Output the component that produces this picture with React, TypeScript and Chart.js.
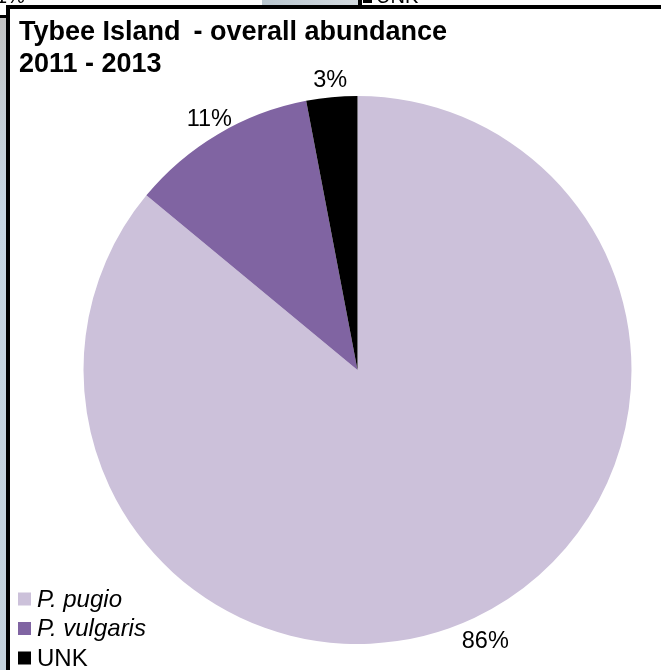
import React, { useEffect, useRef } from "react";
import { Chart, registerables } from "chart.js";

Chart.register(...registerables);

// Overall abundance by species, percent of total catch
const speciesLabels = ["P. pugio", "P. vulgaris", "UNK"];
const abundancePct = [86, 11, 3];
const sliceColors = ["#CCC1DA", "#8064A2", "#000000"];
const italicNames = [true, true, false];
const titleLines = ["Tybee Island\u2009 - overall abundance", "2011 - 2013"];

const FONT = "'Liberation Sans', Arial, sans-serif";
const W = 661;
const H = 670;

// Window backdrop around the framed chart box
const backdropPlugin = {
  id: "backdrop",
  beforeDraw(chart: Chart) {
    const ctx = chart.ctx;
    ctx.save();
    ctx.fillStyle = "#ffffff";
    ctx.fillRect(0, 0, W, H);

    // strip to the left of the frame
    const g = ctx.createLinearGradient(0, 18, 0, H);
    g.addColorStop(0, "#c2c2c2");
    g.addColorStop(0.12, "#c4ccd2");
    g.addColorStop(0.3, "#c6d5e2");
    g.addColorStop(1, "#c3d1dc");
    ctx.fillStyle = g;
    ctx.fillRect(0, 18, 7, H - 18);
    ctx.fillStyle = "#000";
    ctx.fillRect(0, 15, 7, 3);

    // neighbouring window pieces above the frame
    const g2 = ctx.createLinearGradient(262, 0, 358, 0);
    g2.addColorStop(0, "#b9c6cf");
    g2.addColorStop(1, "#d3dadf");
    ctx.fillStyle = g2;
    ctx.fillRect(262, 0, 96, 5);
    ctx.fillStyle = "#000";
    ctx.fillRect(358, 0, 4, 5);
    ctx.fillRect(363, 0, 9, 3);

    ctx.beginPath();
    ctx.rect(0, 0, W, 5);
    ctx.clip();
    ctx.fillStyle = "#000";
    ctx.font = `20px ${FONT}`;
    ctx.textBaseline = "alphabetic";
    ctx.fillText("UNK", 376, 3);
    ctx.fillText("1%", -4, 3);
    ctx.restore();

    // chart frame
    ctx.save();
    ctx.fillStyle = "#000";
    ctx.fillRect(6, 5, W - 6, 4);
    ctx.fillRect(6, 5, 4, H - 5);
    ctx.restore();
  },
};

// Title, outside-end percentage labels and the legend
const annotatePlugin = {
  id: "annotate",
  afterDraw(chart: Chart) {
    const ctx = chart.ctx;
    ctx.save();

    ctx.fillStyle = "#000";
    ctx.textAlign = "left";
    ctx.textBaseline = "alphabetic";
    ctx.font = `bold 27px ${FONT}`;
    ctx.fillText(titleLines[0], 19, 40);
    ctx.fillText(titleLines[1], 19, 72);

    const meta = chart.getDatasetMeta(0);
    const values = chart.data.datasets[0].data as number[];
    ctx.font = `23.5px ${FONT}`;
    ctx.textAlign = "center";
    ctx.textBaseline = "middle";
    meta.data.forEach((el: any, i: number) => {
      const { x, y, startAngle, endAngle, outerRadius } = el.getProps(
        ["x", "y", "startAngle", "endAngle", "outerRadius"],
        true
      );
      const mid = (startAngle + endAngle) / 2;
      // labels below the centre sit a little further from the rim
      const d = outerRadius + 17 + 10 * Math.max(0, Math.sin(mid));
      ctx.fillText(`${values[i]}%`, x + Math.cos(mid) * d, y + Math.sin(mid) * d);
    });

    const labels = chart.data.labels as string[];
    const colors = chart.data.datasets[0].backgroundColor as string[];
    ctx.textAlign = "left";
    labels.forEach((lab, i) => {
      const cy = 599 + i * 29.5;
      ctx.fillStyle = colors[i];
      ctx.fillRect(18, cy - 6.5, 13, 13);
      ctx.fillStyle = "#000";
      ctx.font = `${italicNames[i] ? "italic " : ""}24px ${FONT}`;
      ctx.fillText(lab, 37, cy + 1);
    });

    ctx.restore();
  },
};

export default function App() {
  const ref = useRef<HTMLCanvasElement | null>(null);

  useEffect(() => {
    if (!ref.current) return;
    const chart = new Chart(ref.current, {
      type: "pie",
      data: {
        labels: speciesLabels,
        datasets: [
          {
            data: abundancePct,
            backgroundColor: sliceColors,
            borderWidth: 0,
            hoverOffset: 0,
          },
        ],
      },
      options: {
        responsive: false,
        animation: false,
        devicePixelRatio: 1,
        layout: { padding: { left: 83.5, right: 29.5, top: 96, bottom: 26 } },
        plugins: {
          legend: { display: false },
          title: { display: false },
          tooltip: { enabled: false },
        },
      },
      plugins: [backdropPlugin, annotatePlugin],
    });
    return () => chart.destroy();
  }, []);

  return (
    <div style={{ position: "fixed", left: 0, top: 0, width: W, height: H }}>
      <canvas ref={ref} width={W} height={H} style={{ display: "block" }} />
    </div>
  );
}
